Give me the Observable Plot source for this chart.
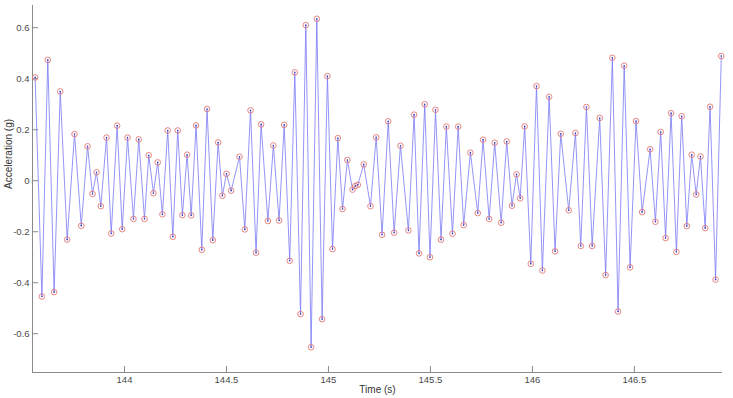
<!DOCTYPE html>
<html>
<head>
<meta charset="utf-8">
<script src="https://cdn.jsdelivr.net/npm/d3@7"></script>
<script src="https://cdn.jsdelivr.net/npm/@observablehq/plot@0.6"></script>
<style>
  html, body { margin: 0; padding: 0; background: #fff; }
  #chart svg { display: block; }
</style>
</head>
<body>
<div id="chart"></div>
<script>
const time = [143.562,143.595,143.624,143.655,143.685,143.719,143.755,143.788,143.819,143.843,143.863,143.884,143.912,143.935,143.964,143.989,144.015,144.044,144.070,144.098,144.119,144.142,144.163,144.186,144.212,144.237,144.261,144.284,144.307,144.327,144.351,144.379,144.405,144.433,144.459,144.480,144.500,144.523,144.564,144.590,144.618,144.645,144.670,144.703,144.730,144.758,144.783,144.810,144.835,144.863,144.889,144.915,144.943,144.969,144.995,145.020,145.046,145.069,145.093,145.118,145.131,145.144,145.173,145.206,145.234,145.263,145.293,145.322,145.353,145.392,145.420,145.444,145.472,145.498,145.525,145.552,145.578,145.608,145.636,145.663,145.696,145.732,145.758,145.788,145.815,145.847,145.874,145.900,145.922,145.940,145.962,145.992,146.020,146.049,146.082,146.111,146.139,146.178,146.211,146.237,146.265,146.293,146.330,146.359,146.392,146.420,146.450,146.479,146.508,146.538,146.577,146.603,146.629,146.653,146.680,146.706,146.732,146.757,146.781,146.803,146.824,146.847,146.871,146.898,146.926];
const accel = [0.405,-0.454,0.474,-0.437,0.350,-0.231,0.183,-0.177,0.135,-0.052,0.033,-0.100,0.169,-0.207,0.216,-0.190,0.169,-0.150,0.162,-0.150,0.100,-0.049,0.072,-0.132,0.197,-0.220,0.197,-0.135,0.102,-0.136,0.217,-0.271,0.281,-0.233,0.150,-0.059,0.027,-0.039,0.094,-0.191,0.276,-0.282,0.221,-0.158,0.138,-0.156,0.219,-0.314,0.425,-0.523,0.610,-0.653,0.635,-0.543,0.410,-0.268,0.167,-0.111,0.081,-0.035,-0.021,-0.016,0.064,-0.100,0.170,-0.212,0.233,-0.204,0.137,-0.195,0.259,-0.285,0.300,-0.300,0.278,-0.231,0.212,-0.208,0.212,-0.174,0.110,-0.127,0.161,-0.150,0.149,-0.165,0.154,-0.098,0.025,-0.069,0.213,-0.326,0.371,-0.352,0.329,-0.277,0.184,-0.116,0.187,-0.256,0.289,-0.256,0.246,-0.370,0.482,-0.513,0.451,-0.340,0.234,-0.123,0.123,-0.161,0.191,-0.225,0.265,-0.279,0.253,-0.178,0.102,-0.054,0.095,-0.186,0.290,-0.388,0.489];
const xDomain = [143.549, 146.932];
const yDomain = [-0.752, 0.687];
const xTicks = [144, 144.5, 145, 145.5, 146, 146.5];
const yTicks = [-0.6, -0.4, -0.2, 0, 0.2, 0.4, 0.6];
const xLabel = "Time (s)";
const yLabel = "Acceleration (g)";

const data = time.map((t, i) => ({t, a: accel[i]}));
const axisColor = "#8a8a8a";
const textColor = "#4a4a4a";

const chart = Plot.plot({
  width: 733,
  height: 398,
  marginLeft: 32,
  marginRight: 11,
  marginTop: 5,
  marginBottom: 26,
  style: {fontFamily: "'Liberation Sans', Arial, sans-serif", fontSize: "9.5px", color: textColor, background: "#fff"},
  x: {domain: xDomain},
  y: {domain: yDomain},
  marks: [
    Plot.ruleY([yDomain[0]], {stroke: axisColor, strokeWidth: 1}),
    Plot.ruleX([xDomain[0]], {stroke: axisColor, strokeWidth: 1}),
    Plot.axisX(xTicks, {tickSize: -6, tickPadding: 10, stroke: axisColor, tickFormat: d => String(d), label: null, fontSize: 9.5}),
    Plot.axisY(yTicks, {tickSize: -6, tickPadding: 9, stroke: axisColor, tickFormat: d => String(d), label: null, fontSize: 9.5}),
    Plot.text([xLabel], {text: d => d, frameAnchor: "bottom", dy: 20, fontSize: 10, fill: "#333"}),
    Plot.text([yLabel], {text: d => d, frameAnchor: "left", dx: -24, rotate: -90, fontSize: 10, fill: "#333"}),
    Plot.line(data, {x: "t", y: "a", stroke: "#7878f6", strokeWidth: 0.8}),
    Plot.dot(data, {x: "t", y: "a", r: 2.8, stroke: "#e07878", strokeWidth: 0.9, fill: "none"}),
    Plot.dot(data, {x: "t", y: "a", r: 0.8, fill: "#3a3aa0", stroke: "none"})
  ]
});
document.getElementById("chart").appendChild(chart);
</script>
</body>
</html>
